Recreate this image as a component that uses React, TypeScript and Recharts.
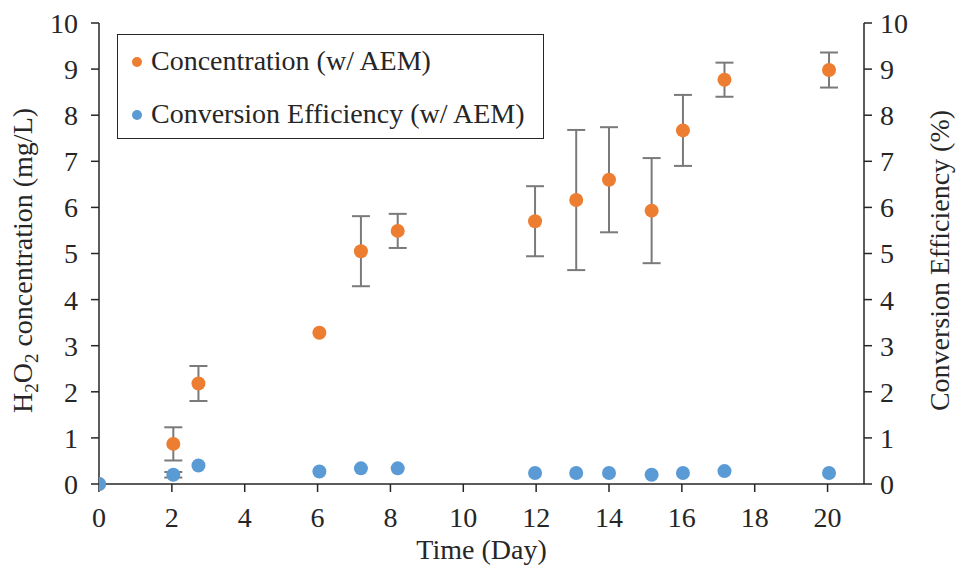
import React from "react";
import { ScatterChart, Scatter, XAxis, YAxis, ErrorBar, Legend, Label } from "recharts";

const serif = "Liberation Serif, Tinos, Times New Roman, DejaVu Serif, serif";

// day of each sample
const days = [0, 2.04, 2.73, 6.05, 7.19, 8.2, 11.97, 13.1, 14.0, 15.17, 16.03, 17.17, 20.04];
// H2O2 concentration (mg/L) and its std error
const concentration = [0, 0.87, 2.18, 3.28, 5.05, 5.49, 5.7, 6.16, 6.6, 5.93, 7.67, 8.77, 8.98];
const concentrationErr = [0, 0.36, 0.38, 0, 0.76, 0.37, 0.76, 1.52, 1.14, 1.14, 0.77, 0.37, 0.38];
// conversion efficiency (%)
const efficiency = [0, 0.2, 0.4, 0.27, 0.34, 0.34, 0.24, 0.24, 0.24, 0.2, 0.24, 0.28, 0.24];
const efficiencyErr = [0, 0.06, 0, 0, 0, 0, 0, 0, 0, 0, 0, 0, 0];

const xTicks = [0, 2, 4, 6, 8, 10, 12, 14, 16, 18, 20];
const yTicks = [0, 1, 2, 3, 4, 5, 6, 7, 8, 9, 10];

const seriesNames = ["Concentration (w/ AEM)", "Conversion Efficiency (w/ AEM)"];
const ORANGE = "#ED7D31";
const BLUE = "#5B9BD5";

const rows = days.map((d, i) => ({
    day: d,
    conc: concentration[i],
    concErr: concentrationErr[i],
    eff: efficiency[i],
    effErr: efficiencyErr[i],
}));

const tickStyle = { fontSize: 28, fill: "#262626", fontFamily: serif };
const axisLine = { stroke: "#262626", strokeWidth: 1.5 };

function Dot(color: string) {
    return (props: any) => <circle cx={props.cx} cy={props.cy} r={7} fill={color} />;
}

function LegendBox() {
    const items = [
        { name: seriesNames[0], color: ORANGE },
        { name: seriesNames[1], color: BLUE },
    ];
    return (
        <div style={{
            width: 427, height: 105, boxSizing: "border-box", border: "1.5px solid #262626",
            background: "#fff", position: "relative", fontFamily: serif, fontSize: 28, color: "#262626",
        }}>
            {items.map((it, i) => (
                <div key={it.name} style={{ position: "absolute", left: 14, top: 10 + i * 53, height: 32, lineHeight: "32px", whiteSpace: "nowrap" }}>
                    <span style={{ display: "inline-block", width: 10, height: 10, borderRadius: 5, background: it.color, marginRight: 9, verticalAlign: "middle", position: "relative", top: -2 }}></span>
                    {it.name}
                </div>
            ))}
        </div>
    );
}

function LeftTitle(props: any) {
    const vb = props.viewBox || { x: 0, y: 23, height: 461 };
    const x = 32;
    const y = vb.y + vb.height / 2 + 7;
    return (
        <text x={x} y={y} transform={`rotate(-90 ${x} ${y})`} textAnchor="middle" fontSize={28} fontFamily={serif} fill="#262626">
            H<tspan fontSize={19} dy={6}>2</tspan><tspan dy={-6}>O</tspan><tspan fontSize={19} dy={6}>2</tspan><tspan dy={-6}> concentration (mg/L)</tspan>
        </text>
    );
}

function RightTitle(props: any) {
    const vb = props.viewBox || { x: 864, y: 23, height: 461 };
    const x = 949;
    const y = vb.y + vb.height / 2 + 7;
    return (
        <text x={x} y={y} transform={`rotate(-90 ${x} ${y})`} textAnchor="middle" fontSize={28} fontFamily={serif} fill="#262626">
            Conversion Efficiency (%)
        </text>
    );
}

export default function App() {
    return (
        <div style={{ position: "absolute", left: 0, top: 0, width: 956, height: 571, background: "#fff", fontFamily: serif }}>
            <ScatterChart width={956} height={571} margin={{ top: 23, right: 0, bottom: 0, left: 0 }} style={{ fontFamily: serif }}>
                <XAxis
                    dataKey="day"
                    type="number"
                    domain={[0, 21]}
                    ticks={xTicks}
                    interval={0}
                    height={87}
                    tickSize={8}
                    tickMargin={15}
                    tick={tickStyle}
                    axisLine={axisLine}
                    tickLine={axisLine}
                    allowDataOverflow
                >
                    <Label value="Time (Day)" position="insideBottom" offset={12} style={{ fontSize: 28, fill: "#262626", fontFamily: serif }} />
                </XAxis>
                <YAxis
                    yAxisId="left"
                    orientation="left"
                    type="number"
                    domain={[0, 10]}
                    ticks={yTicks}
                    interval={0}
                    width={99}
                    tickSize={8}
                    tickMargin={13}
                    tick={tickStyle}
                    axisLine={axisLine}
                    tickLine={axisLine}
                >
                    <Label content={LeftTitle} />
                </YAxis>
                <YAxis
                    yAxisId="right"
                    orientation="right"
                    type="number"
                    domain={[0, 10]}
                    ticks={yTicks}
                    interval={0}
                    width={92}
                    tickSize={8}
                    tickMargin={8}
                    tick={tickStyle}
                    axisLine={axisLine}
                    tickLine={axisLine}
                >
                    <Label content={RightTitle} />
                </YAxis>
                <Legend
                    layout="vertical"
                    align="center"
                    verticalAlign="middle"
                    content={() => <LegendBox />}
                    wrapperStyle={{ position: "absolute", left: 117, top: 34, width: 427, height: 105 }}
                />
                <Scatter name={seriesNames[0]} data={rows} dataKey="conc" yAxisId="left" fill={ORANGE} shape={Dot(ORANGE)} isAnimationActive={false}>
                    <ErrorBar dataKey="concErr" direction="y" width={9} stroke="#7a7a7a" strokeWidth={2} />
                </Scatter>
                <Scatter name={seriesNames[1]} data={rows} dataKey="eff" yAxisId="right" fill={BLUE} shape={Dot(BLUE)} isAnimationActive={false}>
                    <ErrorBar dataKey="effErr" direction="y" width={9} stroke="#7a7a7a" strokeWidth={2} />
                </Scatter>
            </ScatterChart>
        </div>
    );
}
